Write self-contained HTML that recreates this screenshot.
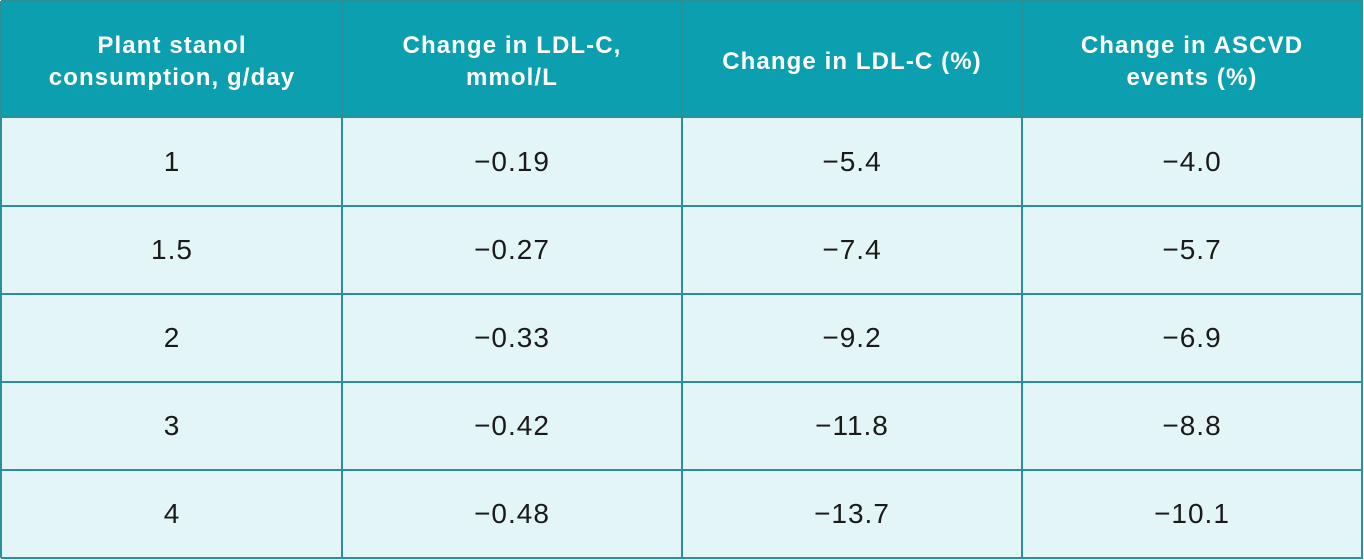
<!DOCTYPE html>
<html><head><style>
body{margin:0;width:1364px;height:560px;background:#fff;position:relative;overflow:hidden;font-family:"Liberation Sans",sans-serif}
.hd{position:absolute;top:1px;left:1px;width:1361px;height:116px;background:#0c9fb0}
.bd{position:absolute;top:117px;left:1px;width:1361px;height:440px;background:#e4f5f8}
.v,.h{position:absolute;background:#2b9196}
.v{width:2px;top:1px;height:557px}
.h{height:2px;left:1px;width:1362px}
.c{position:absolute;display:flex;align-items:center;justify-content:center;text-align:center}
.hc{color:#fff;font-weight:bold;font-size:24px;letter-spacing:1.1px;line-height:32px;top:4px;height:115px}
.bc{color:#1a1a1a;font-size:28px;letter-spacing:1px;height:88px}
</style></head><body>
<div class="hd"></div><div class="bd"></div>
<div class="v" style="left:0"></div><div class="v" style="left:341px"></div><div class="v" style="left:681px"></div><div class="v" style="left:1021px"></div><div class="v" style="left:1361px"></div>
<div class="h" style="top:0"></div><div class="h" style="top:116px"></div><div class="h" style="top:205px"></div><div class="h" style="top:293px"></div><div class="h" style="top:381px"></div><div class="h" style="top:469px"></div><div class="h" style="top:557px"></div>
<div class="c hc" style="left:2px;width:340px">Plant stanol<br>consumption, g/day</div>
<div class="c hc" style="left:342px;width:340px">Change in LDL-C,<br>mmol/L</div>
<div class="c hc" style="left:682px;width:340px">Change in LDL-C (%)</div>
<div class="c hc" style="left:1022px;width:340px">Change in ASCVD<br>events (%)</div>
<div class="c bc" style="left:2px;width:340px;top:118px">1</div>
<div class="c bc" style="left:342px;width:340px;top:118px">−0.19</div>
<div class="c bc" style="left:682px;width:340px;top:118px">−5.4</div>
<div class="c bc" style="left:1022px;width:340px;top:118px">−4.0</div>
<div class="c bc" style="left:2px;width:340px;top:206px">1.5</div>
<div class="c bc" style="left:342px;width:340px;top:206px">−0.27</div>
<div class="c bc" style="left:682px;width:340px;top:206px">−7.4</div>
<div class="c bc" style="left:1022px;width:340px;top:206px">−5.7</div>
<div class="c bc" style="left:2px;width:340px;top:294px">2</div>
<div class="c bc" style="left:342px;width:340px;top:294px">−0.33</div>
<div class="c bc" style="left:682px;width:340px;top:294px">−9.2</div>
<div class="c bc" style="left:1022px;width:340px;top:294px">−6.9</div>
<div class="c bc" style="left:2px;width:340px;top:382px">3</div>
<div class="c bc" style="left:342px;width:340px;top:382px">−0.42</div>
<div class="c bc" style="left:682px;width:340px;top:382px">−11.8</div>
<div class="c bc" style="left:1022px;width:340px;top:382px">−8.8</div>
<div class="c bc" style="left:2px;width:340px;top:470px">4</div>
<div class="c bc" style="left:342px;width:340px;top:470px">−0.48</div>
<div class="c bc" style="left:682px;width:340px;top:470px">−13.7</div>
<div class="c bc" style="left:1022px;width:340px;top:470px">−10.1</div>
</body></html>
